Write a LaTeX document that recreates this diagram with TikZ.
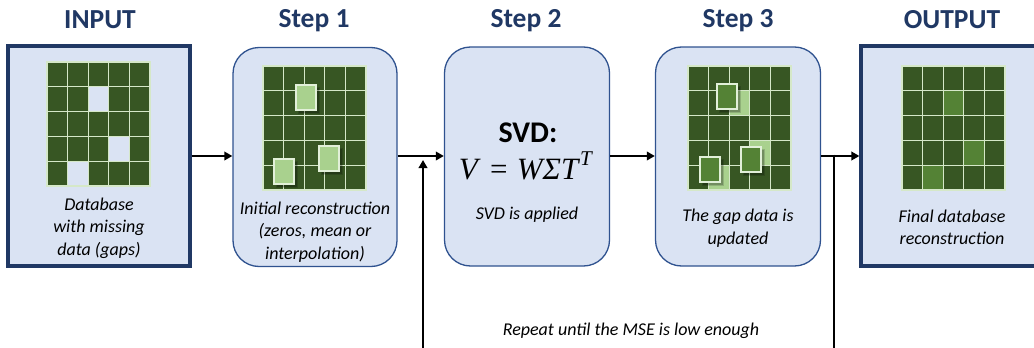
\documentclass[tikz,border=0pt]{standalone}
\usepackage{fontspec}
\setmainfont{Carlito}
\newfontfamily\eqfont{Liberation Serif}
\usetikzlibrary{arrows.meta}
\definecolor{boxfill}{HTML}{DAE3F3}
\definecolor{boxline}{HTML}{2F528F}
\definecolor{navy}{HTML}{203864}
\definecolor{titleblue}{HTML}{203864}
\definecolor{dgreen}{HTML}{375623}
\definecolor{lgreen}{HTML}{A9D18E}
\definecolor{mgreen}{HTML}{548235}
\definecolor{gridline}{HTML}{D5E8C8}
\definecolor{patchline}{HTML}{E2F0D9}
\tikzset{
  sqbox/.style={draw=navy, line width=3.2pt, fill=boxfill, minimum width=182pt, minimum height=220pt, inner sep=0pt},
  rbox/.style={draw=boxline, line width=1.3pt, fill=boxfill, rounded corners=26pt, minimum width=165pt, minimum height=219pt, inner sep=0pt},
  ttl/.style={font=\fontsize{27.5}{32}\selectfont\bfseries, text=titleblue, inner sep=0pt},
  lab/.style={font=\fontsize{18}{22.5}\selectfont\itshape, align=center, inner sep=0pt},
  conn/.style={line width=2.8pt, -{Triangle[length=8pt,width=8.5pt]}},
  plain/.style={line width=2.8pt},
  cellst/.style={draw=gridline, line width=1.1pt, fill=dgreen},
}
\newcommand{\dbgrid}[2]{%
  \foreach \i in {0,...,4}{\foreach \j in {0,...,4}{%
    \draw[cellst] ({#1+\i*20.6},{#2+\j*24.8}) rectangle ++(20.6,24.8);}}}
\newcommand{\gapcell}[4]{%
  \fill[boxfill] ({#1+#3*20.6+0.6},{#2+#4*24.8+0.6}) rectangle ++(19.4,23.6);}
\newcommand{\colcell}[5]{%
  \draw[cellst, fill=#5] ({#1+#3*20.6},{#2+#4*24.8}) rectangle ++(20.6,24.8);}
\newcommand{\patch}[3]{%
  \fill[black, opacity=0.15] ({#1+2},{#2+2}) rectangle ++(22,27);
  \fill[black, opacity=0.2] ({#1+3},{#2+3}) rectangle ++(20,25);
  \draw[draw=patchline, line width=1.1pt, fill=#3] (#1,#2) rectangle ++(20,25);}
\begin{document}
\begin{tikzpicture}[x=1pt, y=-1pt]
\useasboundingbox (0,0) rectangle (1034,348);
% boxes
\node[sqbox] (bin) at (99,156) {};
\node[rbox, minimum width=164pt] (b1) at (315,157) {};
\node[rbox] (b2) at (527,156.5) {};
\node[rbox] (b3) at (738,156.5) {};
\node[sqbox] (bout) at (952,156) {};
% titles
\node[ttl] (tin) at (100,20) {INPUT};
\node[ttl] (t1) at (314,21) {Step 1};
\node[ttl] (t2) at (526,21) {Step 2};
\node[ttl] (t3) at (738,21) {Step 3};
\node[ttl] (tout) at (952,20) {OUTPUT};
% grids
\dbgrid{47}{62}
\gapcell{47}{62}{2}{1}
\gapcell{47}{62}{3}{3}
\gapcell{47}{62}{1}{4}
\dbgrid{263}{66}
\patch{296}{85}{lgreen}
\patch{274}{159}{lgreen}
\patch{319}{146}{lgreen}
\dbgrid{688}{66}
\colcell{688}{66}{2}{1}{lgreen}
\colcell{688}{66}{3}{3}{lgreen}
\colcell{688}{66}{1}{4}{lgreen}
\patch{717}{84}{mgreen}
\patch{741}{147}{mgreen}
\patch{700}{157}{mgreen}
\dbgrid{902}{66}
\colcell{902}{66}{2}{1}{mgreen}
\colcell{902}{66}{3}{3}{mgreen}
\colcell{902}{66}{1}{4}{mgreen}
% labels
\node[lab] (lin) at (99,228) {Database\\with missing\\data (gaps)};
\node[lab] (l1) at (315,232) {Initial reconstruction\\(zeros, mean or\\interpolation)};
\node[font=\fontsize{30}{34}\selectfont\bfseries, inner sep=0pt] (svd) at (528,133) {SVD:};
\node[font=\eqfont\fontsize{31}{34}\selectfont, inner sep=0pt] (eq) at (526,166) {\textit{V}\hspace{0.3em}=\hspace{0.3em}\textit{WΣT}\raisebox{0.45em}{\fontsize{21}{24}\selectfont\textit{T}}};
\node[lab] (l2) at (527,215) {SVD is applied};
\node[lab] (l3) at (738,228) {The gap data is\\updated};
\node[lab] (lout) at (952,227.5) {Final database\\reconstruction};
\node[lab] (rep) at (631,331) {Repeat until the MSE is low enough};
% connectors
\draw[conn] (bin.east) -- (b1.west |- bin.east);
\draw[conn] (b1.east |- bin.east) -- (b2.west |- bin.east);
\draw[conn] (b2.east |- bin.east) -- (b3.west |- bin.east);
\draw[conn] (b3.east |- bin.east) -- (bout.west);
\coordinate (lb) at (423,352);
\coordinate (lt) at (423,160);
\coordinate (rt) at (834,154.6);
\coordinate (rb) at (834,352);
\draw[conn] (lb) -- (lt);
\draw[plain] (rt) -- (rb);
\end{tikzpicture}
\end{document}
